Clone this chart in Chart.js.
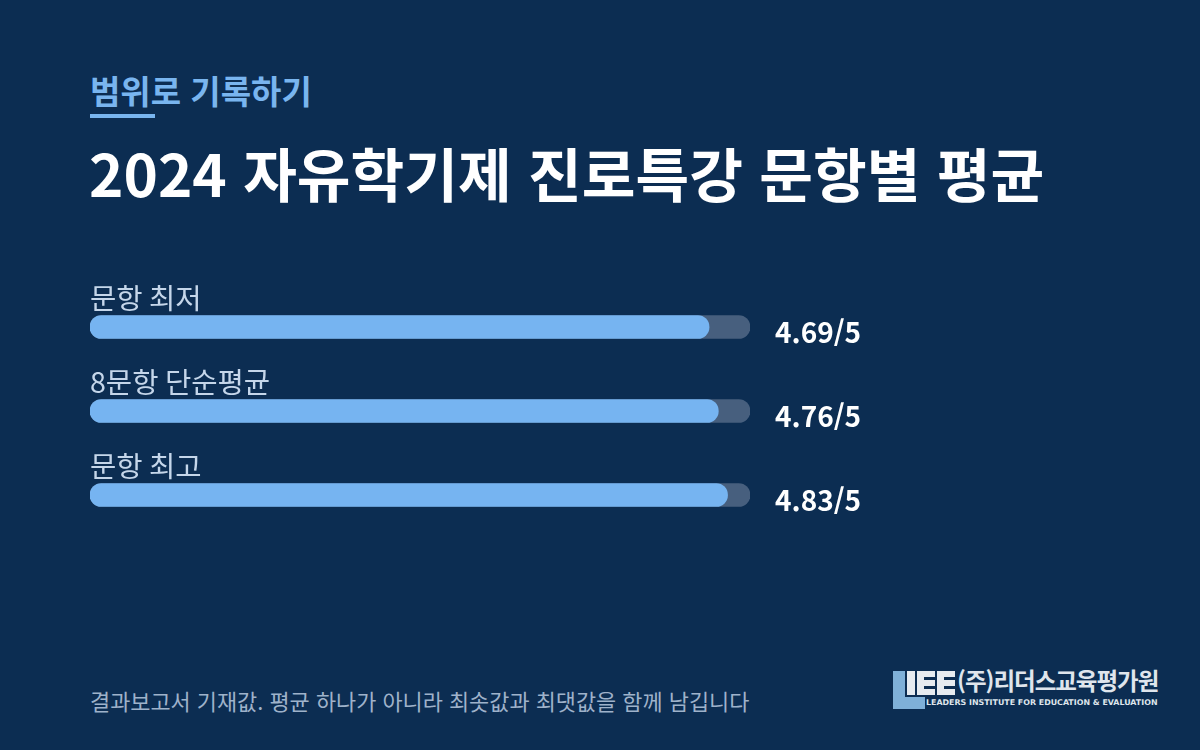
<!DOCTYPE html>
<html lang="ko">
<head>
<meta charset="utf-8">
<title>2024 자유학기제 진로특강 문항별 평균</title>
<script src="https://cdn.jsdelivr.net/npm/chart.js@4.4.1/dist/chart.umd.min.js"></script>
<style>
  html, body { margin: 0; padding: 0; }
  body {
    width: 1200px; height: 750px; overflow: hidden; position: relative;
    background: #0c2d52;
    font-family: "Noto Sans CJK KR", "Noto Sans", sans-serif;
  }
  .kicker {
    position: absolute; left: 90px; top: 74px;
    font-size: 33px; font-weight: 700; color: #79b5ef; line-height: 1;
  }
  .kicker-line {
    position: absolute; left: 90px; top: 114px; width: 65px; height: 4px;
    background: #79b5ef;
  }
  .title {
    position: absolute; left: 89px; top: 143px;
    font-size: 58.4px; font-weight: 700; color: #ffffff; line-height: 1;
  }
  #chart-wrap {
    position: absolute; left: 0; top: 255px; width: 1200px; height: 300px;
  }
  .note {
    position: absolute; left: 90px; top: 690px;
    font-size: 21.9px; color: #9fb2ca; line-height: 1;
  }
  .logo { position: absolute; left: 893px; top: 671px; width: 270px; height: 40px; }
  .logo-name {
    position: absolute; left: 64px; top: -2px;
    font-size: 23.5px; font-weight: 700; color: #dfe5ec; letter-spacing: -1px; line-height: 1;
  }
  .logo-en {
    position: absolute; left: 33px; top: 28px;
    font-family: "DejaVu Sans", sans-serif;
    font-size: 7.9px; font-weight: 700; color: #dfe5ec; line-height: 1; white-space: nowrap;
  }
</style>
</head>
<body>
<div class="kicker">범위로 기록하기</div>
<div class="kicker-line"></div>
<div class="title">2024 자유학기제 진로특강 문항별 평균</div>

<div id="chart-wrap"><canvas id="barChart"></canvas></div>

<div class="note">결과보고서 기재값. 평균 하나가 아니라 최솟값과 최댓값을 함께 남깁니다</div>

<div class="logo">
  <svg width="64" height="38" viewBox="0 0 64 38" style="position:absolute;left:0;top:0">
    <path d="M0 0h12v26h20v12H0z" fill="#7fb0d8"/>
    <rect x="14" y="0" width="8" height="24" fill="#e6ebf0"/>
    <path d="M24 0h18v6h-11v3h11v6h-11v3h11v6H24z" fill="#e6ebf0"/>
    <path d="M44 0h18v6h-11v3h11v6h-11v3h11v6H44z" fill="#e6ebf0"/>
  </svg>
  <div class="logo-name">(주)리더스교육평가원</div>
  <div class="logo-en">LEADERS INSTITUTE FOR EDUCATION &amp; EVALUATION</div>
</div>

<script>
// 항목 이름과 값 (5점 만점)
const categories = ['문항 최저', '8문항 단순평균', '문항 최고'];
const scores = [4.69, 4.76, 4.83];
const maxScore = 5;
const trackValues = categories.map(() => maxScore);

// 막대 위 항목명, 오른쪽 점수 표시
const rowLabels = {
  id: 'rowLabels',
  afterDatasetsDraw(chart) {
    const ctx = chart.ctx;
    const meta = chart.getDatasetMeta(0);
    const area = chart.chartArea;
    ctx.save();
    meta.data.forEach((bar, i) => {
      const top = bar.y - bar.height / 2;
      ctx.font = '400 28.6px "Noto Sans CJK KR", sans-serif';
      ctx.fillStyle = '#c5d6ea';
      ctx.textAlign = 'left';
      ctx.textBaseline = 'alphabetic';
      ctx.fillText(categories[i], area.left, top - 7);

      ctx.font = '700 28px "Noto Sans CJK KR", sans-serif';
      ctx.fillStyle = '#ffffff';
      ctx.textBaseline = 'middle';
      ctx.fillText(scores[i].toFixed(2) + '/' + maxScore, area.right + 25, bar.y + 5);
    });
    ctx.restore();
  }
};

const ctx = document.getElementById('barChart');
new Chart(ctx, {
  type: 'bar',
  data: {
    labels: categories,
    datasets: [
      {
        label: '평균',
        data: scores,
        backgroundColor: '#76b4f1',
        borderRadius: 12,
        borderSkipped: false,
        barThickness: 23,
        grouped: false,
        order: 0
      },
      {
        label: '만점',
        data: trackValues,
        backgroundColor: '#475f7e',
        borderRadius: 12,
        borderSkipped: false,
        barThickness: 23,
        grouped: false,
        order: 1
      }
    ]
  },
  options: {
    indexAxis: 'y',
    responsive: true,
    maintainAspectRatio: false,
    animation: false,
    layout: { padding: { left: 90, right: 450, top: 30, bottom: 18 } },
    plugins: {
      legend: { display: false },
      tooltip: { enabled: false }
    },
    scales: {
      x: { display: false, min: 0, max: maxScore },
      y: { display: false }
    }
  },
  plugins: [rowLabels]
});
</script>
</body>
</html>
